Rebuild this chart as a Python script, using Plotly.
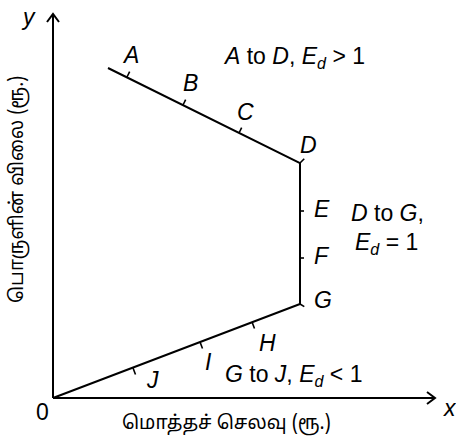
import numpy as np
import plotly.graph_objects as go

# ---- data (chart units: x = total expenditure, y = price) ----
curve_x = [55, 247, 247, 0]
curve_y = [330, 235, 94, 0]

point_names = ["A", "B", "C", "D", "E", "F", "G", "H", "I", "J"]
point_x = [74, 130, 186, 247, 247, 247, 247, 199, 147, 80]
point_y = [321, 293, 265, 235, 187, 140, 94, 76, 56, 30]

region_texts = [
    "<i>A</i> to <i>D</i>, <i>E<sub>d</sub></i> > 1",
    "<i>D</i> to <i>G</i>,",
    "<i>E<sub>d</sub></i> = 1",
    "<i>G</i> to <i>J</i>, <i>E<sub>d</sub></i> < 1",
]
x_title = "மொத்தச் செலவு (ரூ.)"
y_title = "பொருளின் விலை (ரூ.)"

# ---- style / layout ----
W, H = 456, 438
X0, Y0 = 53, 398            # pixel position of origin
x_axis_len, y_axis_len = 382, 384
FONT = "Liberation Sans, Arial, sans-serif"
TAMIL = "Noto Sans Tamil, Latha, Lohit Tamil, Noto Sans, sans-serif"
FS = 23

label_off = [(3, 22), (7, 22), (6, 21), (8, 18), (22, 2), (22, 2), (23, 4),
             (15, -21), (8, -20), (19, -12)]
region_pos = [(241, 341), (334, 185), (333, 155), (240, 23)]

def unit(v):
    v = np.asarray(v, float)
    return v / np.linalg.norm(v)

# tick directions derived from the curve geometry
up_dir = unit([curve_y[0] - curve_y[1], curve_x[1] - curve_x[0]])
if up_dir[1] < 0:
    up_dir = -up_dir
low_dir = unit([curve_y[2] - curve_y[3], -(curve_x[2] - curve_x[3])])
if low_dir[1] > 0:
    low_dir = -low_dir
tick_dirs = [up_dir, up_dir, up_dir, unit([1, 1]), np.array([1.0, 0]),
             np.array([1.0, 0]), unit([1, -0.6]), low_dir, low_dir, low_dir]
tick_len = [6, 6, 6, 6, 4, 4, 5, 7, 7, 7]

tx, ty = [], []
for px, py, d, L in zip(point_x, point_y, tick_dirs, tick_len):
    tx += [px, px + d[0] * L, None]
    ty += [py, py + d[1] * L, None]

# axes with open arrowheads
ah_len, ah_half = 8, 6
ax_x = [0, x_axis_len, None, x_axis_len - ah_len, x_axis_len, x_axis_len - ah_len, None,
        0, 0, None, -ah_half, 0, ah_half]
ax_y = [0, 0, None, ah_half, 0, -ah_half, None,
        0, y_axis_len, None, y_axis_len - ah_len, y_axis_len, y_axis_len - ah_len]

fig = go.Figure()
fig.add_trace(go.Scatter(x=ax_x, y=ax_y, mode="lines",
                         line=dict(color="black", width=2), hoverinfo="skip"))
fig.add_trace(go.Scatter(x=curve_x, y=curve_y, mode="lines",
                         line=dict(color="black", width=2), hoverinfo="skip"))
fig.add_trace(go.Scatter(x=tx, y=ty, mode="lines",
                         line=dict(color="black", width=1.6), hoverinfo="skip"))

ann = []
for name, px, py, off in zip(point_names, point_x, point_y, label_off):
    ann.append(dict(x=px + off[0], y=py + off[1], text=f"<i>{name}</i>",
                    showarrow=False, font=dict(family=FONT, size=FS, color="black")))
for t, (rx, ry) in zip(region_texts, region_pos):
    ann.append(dict(x=rx, y=ry, text=t, showarrow=False,
                    font=dict(family=FONT, size=FS, color="black")))
ann.append(dict(x=-11, y=-14, text="0", showarrow=False,
                font=dict(family=FONT, size=FS, color="black")))
ann.append(dict(x=397, y=-10, text="<i>x</i>", showarrow=False,
                font=dict(family=FONT, size=FS, color="black")))
ann.append(dict(x=-25, y=381, text="<i>y</i>", showarrow=False,
                font=dict(family=FONT, size=FS, color="black")))
ann.append(dict(x=173, y=-26, text=x_title, showarrow=False,
                font=dict(family=TAMIL, size=19, color="black")))
ann.append(dict(x=-35, y=208, text=y_title, showarrow=False, textangle=-90,
                font=dict(family=TAMIL, size=19, color="black")))

fig.update_layout(
    width=W, height=H, margin=dict(l=0, r=0, t=0, b=0),
    paper_bgcolor="white", plot_bgcolor="white", showlegend=False,
    xaxis=dict(range=[-X0, W - X0], visible=False, fixedrange=True),
    yaxis=dict(range=[Y0 - H, Y0], visible=False, fixedrange=True),
    annotations=ann,
)
fig.write_html("out.html", config={"displayModeBar": False},
               post_script="document.body.style.margin='0';document.body.style.overflow='hidden';")
